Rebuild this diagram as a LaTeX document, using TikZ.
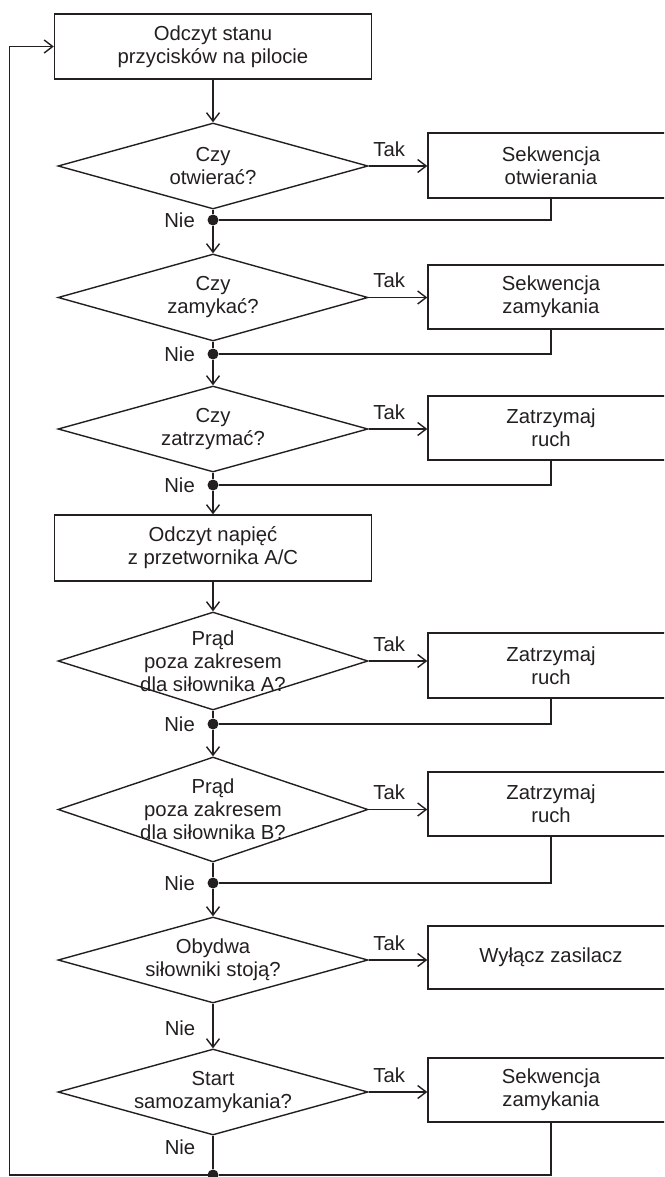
\documentclass[tikz,border=0pt]{standalone}
\usepackage{fontspec}
\setmainfont{Liberation Sans}
\usetikzlibrary{shapes.geometric,arrows.meta}
\definecolor{ink}{RGB}{35,31,32}
\begin{document}
\begin{tikzpicture}[x=1pt,y=-1pt,
  font=\fontsize{20.3}{23}\selectfont,
  every node/.style={text=ink},
  line/.style={draw=ink,line width=1.4pt},
  arr/.style={line,-{Straight Barb[length=8.5pt,width=13pt]}},
  proc/.style={line,rectangle,minimum width=317pt,minimum height=65pt,align=center,inner sep=0pt},
  side/.style={line,rectangle,minimum width=246pt,minimum height=64pt,align=center,inner sep=0pt},
  decision/.style={line,diamond,minimum width=310pt,minimum height=86pt,inner sep=0pt},
  dtext/.style={align=center,inner sep=0pt},
  junction/.style={circle,fill=ink,inner sep=0pt,minimum size=11pt},
  lbl/.style={inner sep=0pt}]
\useasboundingbox (0,0) rectangle (664,1177);
\clip (0,0) rectangle (664,1177);

% main column
\node[proc] (s0) at (213,46.5) {Odczyt stanu\\przycisków na pilocie};

\node[decision] (d1) at (213,166) {};
\node[dtext] (d1t) at (d1.center) {Czy\\otwierać?};
\node[side,minimum height=65pt] (b1) at (551,165.5) {Sekwencja\\otwierania};
\node[junction] (j1) at (213,220) {};

\node[decision,minimum height=87pt] (d2) at (213,297.5) {};
\node[dtext] (d2t) at (d2.center) {Czy\\zamykać?};
\node[side] (b2) at (551,297) {Sekwencja\\zamykania};
\node[junction] (j2) at (213,354) {};

\node[decision] (d3) at (213,429) {};
\node[dtext] (d3t) at (d3.center) {Czy\\zatrzymać?};
\node[side] (b3) at (551,428) {Zatrzymaj\\ruch};
\node[junction] (j3) at (213,485) {};

\node[proc,minimum height=66pt] (s1) at (213,548) {Odczyt napięć\\z przetwornika A/C};

\node[decision,minimum height=98pt] (dA) at (213,661) {};
\node[dtext] (dAt) at (dA.center) {Prąd\\poza zakresem\\dla siłownika A?};
\node[side,minimum height=65pt] (bA) at (551,665.5) {Zatrzymaj\\ruch};
\node[junction] (jA) at (213,724) {};

\node[decision,minimum height=105pt] (dB) at (213,809.5) {};
\node[dtext] (dBt) at (dB.center) {Prąd\\poza zakresem\\dla siłownika B?};
\node[side] (bB) at (551,804) {Zatrzymaj\\ruch};
\node[junction] (jB) at (213,883) {};

\node[decision] (dC) at (213,960) {};
\node[dtext] (dCt) at (dC.center) {Obydwa\\siłowniki stoją?};
\node[side,minimum height=63pt] (bC) at (551,957.5) {Wyłącz zasilacz};

\node[decision] (dD) at (213,1092) {};
\node[dtext] (dDt) at (dD.center) {Start\\samozamykania?};
\node[side] (bD) at (551,1090) {Sekwencja\\zamykania};
\node[junction] (jD) at (213,1175) {};

\coordinate (loop) at (9.3,0);

% vertical flow
\draw[arr] (s0) -- (d1);
\draw[line] (d1) -- (j1);
\draw[arr] (j1) -- (d2);
\draw[line] (d2) -- (j2);
\draw[arr] (j2) -- (d3);
\draw[line] (d3) -- (j3);
\draw[arr] (j3) -- (s1);
\draw[arr] (s1) -- (dA);
\draw[line] (dA) -- (jA);
\draw[arr] (jA) -- (dB);
\draw[line] (dB) -- (jB);
\draw[arr] (jB) -- (dC);
\draw[arr] (dC) -- (dD);
\draw[line] (dD) -- (jD);

% Tak branches
\foreach \d/\b in {d1/b1,d2/b2,d3/b3,dA/bA,dB/bB,dC/bC,dD/bD}{
  \draw[arr] (\d.east) -- (\d.east -| \b.west)
    node[lbl,pos=0.35,above=9pt] {Tak};
}

% returns
\draw[line] (b1.south) |- (j1);
\draw[line] (b2.south) |- (j2);
\draw[line] (b3.south) |- (j3);
\draw[line] (bA.south) |- (jA);
\draw[line] (bB.south) |- (jB);
\draw[line] (bD.south) |- (jD);

% loop back
\draw[arr] (jD.center) -- (jD.center -| loop) |- (s0.west);

% Nie labels
\node[lbl,anchor=east] (n1) at ([xshift=-18pt]j1.center) {Nie};
\node[lbl,anchor=east] (n2) at ([xshift=-18pt]j2.center) {Nie};
\node[lbl,anchor=east] (n3) at ([xshift=-18pt]j3.center) {Nie};
\node[lbl,anchor=east] (nA) at ([xshift=-18pt]jA.center) {Nie};
\node[lbl,anchor=east] (nB) at ([xshift=-18pt]jB.center) {Nie};
\node[lbl] (nC) at (180,1028) {Nie};
\node[lbl] (nD) at (180,1147) {Nie};
\end{tikzpicture}
\end{document}
